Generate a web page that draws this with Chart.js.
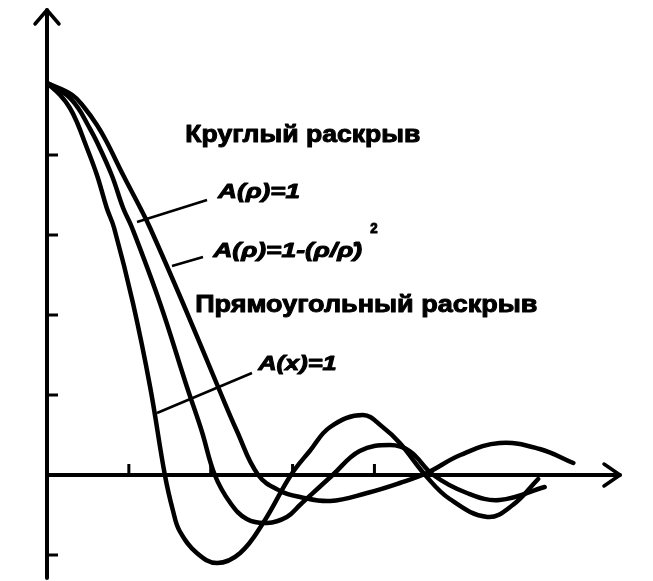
<!DOCTYPE html>
<html>
<head>
<meta charset="utf-8">
<title>Диаграмма направленности</title>
<script src="https://cdn.jsdelivr.net/npm/chart.js@4"></script>
<style>
  html, body { margin:0; background:#fff; }
  canvas { display:block; }
</style>
</head>
<body>
<canvas id="chart" width="653" height="581"></canvas>
<script>
// A(x)=1, прямоугольный раскрыв
const rectX = [0, 0.16, 0.28, 0.38, 0.46, 0.61, 0.73, 0.82, 1.05, 1.26, 1.44, 1.54, 1.62, 1.83, 2.08, 2.36, 2.64, 2.98, 3.21, 3.46, 3.86, 4.10, 4.31, 4.62, 4.92, 5.38, 5.69, 6.0];
const rectY = [0.98, 0.95, 0.9175, 0.875, 0.8325, 0.75, 0.6675, 0.6175, 0.43, 0.22, 0, -0.09, -0.14, -0.195, -0.22, -0.195, -0.12, 0, 0.06, 0.12, 0.15, 0.12, 0.08, 0, -0.06, -0.105, -0.075, -0.01];

// A(ρ)=1, круглый раскрыв
const circX = [0, 0.24, 0.38, 0.50, 0.61, 0.79, 0.93, 1.04, 1.38, 1.71, 1.89, 2.05, 2.24, 2.44, 2.69, 2.93, 3.09, 3.49, 3.82, 4.19, 4.43, 4.72, 5.13, 5.53, 6.08];
const circY = [0.98, 0.95, 0.9175, 0.875, 0.8325, 0.75, 0.6675, 0.6175, 0.43, 0.22, 0.11, 0, -0.07, -0.11, -0.12, -0.105, -0.075, 0, 0.06, 0.075, 0.06, 0, -0.045, -0.0625, -0.03];

// A(ρ)=1-(ρ/ρ')^2
const taperX = [0, 0.31, 0.46, 0.61, 0.73, 0.93, 1.14, 1.26, 1.66, 2.09, 2.32, 2.58, 2.85, 3.09, 3.46, 3.91, 4.31, 4.64, 5.05, 5.53, 6.02, 6.43];
const taperY = [0.98, 0.95, 0.9175, 0.875, 0.8325, 0.75, 0.6675, 0.6175, 0.43, 0.22, 0.11, 0, -0.04, -0.055, -0.065, -0.045, -0.02, 0.005, 0.05, 0.08, 0.065, 0.03];

const xTicks = [1, 2, 3, 4];
const yTicks = [-0.2, 0.2, 0.4, 0.6, 0.8];

// подписи: текст, левый край, правый край, базовая линия (в единицах осей)
const labels = [
  { text: "Круглый раскрыв", x0: 1.69, x1: 4.56, y: 0.8325, font: "bold 24px 'Liberation Sans', Arial, sans-serif" },
  { text: "A(ρ)=1", x0: 2.09, x1: 3.09, y: 0.6925, font: "italic bold 21px 'Liberation Sans', Arial, sans-serif" },
  { text: "A(ρ)=1-(ρ/ρ\u030D)", x0: 2.03, x1: 3.85, y: 0.545, font: "italic bold 21px 'Liberation Sans', Arial, sans-serif" },
  { text: "2", x0: 3.95, x1: 4.04, y: 0.605, font: "bold 14px 'Liberation Sans', Arial, sans-serif" },
  { text: "Прямоугольный раскрыв", x0: 1.81, x1: 5.99, y: 0.4075, font: "bold 24px 'Liberation Sans', Arial, sans-serif" },
  { text: "A(x)=1", x0: 2.58, x1: 3.54, y: 0.2625, font: "italic bold 21px 'Liberation Sans', Arial, sans-serif" }
];

// выноски от подписей к кривым
const leaders = [
  [1.955, 0.6875, 1.10, 0.6325],
  [1.906, 0.545, 1.527, 0.5225],
  [2.504, 0.255, 1.344, 0.155]
];

const pts = (xs, ys) => xs.map((x, i) => ({ x: x, y: ys[i] }));

const axesPlugin = {
  id: "axes",
  beforeDatasetsDraw(chart) {
    const c = chart.ctx;
    const sx = chart.scales.x, sy = chart.scales.y;
    const x0 = sx.getPixelForValue(0), y0 = sy.getPixelForValue(0);
    const top = sy.getPixelForValue(sy.max), bottom = sy.getPixelForValue(sy.min);
    const right = sx.getPixelForValue(sx.max);
    c.save();
    c.strokeStyle = "#000";
    c.lineCap = "round";
    c.lineJoin = "round";
    c.lineWidth = 4;
    c.beginPath();
    c.moveTo(x0, bottom); c.lineTo(x0, top);
    c.moveTo(x0, y0); c.lineTo(right, y0);
    c.stroke();
    // стрелки
    c.lineWidth = 3.5;
    c.beginPath();
    c.moveTo(x0 - 12, top + 14); c.lineTo(x0, top); c.lineTo(x0 + 12, top + 14);
    c.moveTo(right - 16, y0 - 11); c.lineTo(right, y0); c.lineTo(right - 16, y0 + 11);
    c.stroke();
    // деления
    c.lineWidth = 3;
    c.lineCap = "butt";
    c.beginPath();
    yTicks.forEach(v => {
      const p = sy.getPixelForValue(v);
      c.moveTo(x0, p); c.lineTo(x0 + 11, p);
    });
    xTicks.forEach(v => {
      const p = sx.getPixelForValue(v);
      c.moveTo(p, y0); c.lineTo(p, y0 - 11);
    });
    c.stroke();
    c.restore();
  },
  afterDatasetsDraw(chart) {
    const c = chart.ctx;
    const sx = chart.scales.x, sy = chart.scales.y;
    c.save();
    c.strokeStyle = "#000";
    c.lineWidth = 2.5;
    c.beginPath();
    leaders.forEach(l => {
      c.moveTo(sx.getPixelForValue(l[0]), sy.getPixelForValue(l[1]));
      c.lineTo(sx.getPixelForValue(l[2]), sy.getPixelForValue(l[3]));
    });
    c.stroke();
    c.fillStyle = "#000";
    c.textBaseline = "alphabetic";
    c.lineJoin = "round";
    c.lineWidth = 1;
    labels.forEach(t => {
      c.font = t.font;
      const px0 = sx.getPixelForValue(t.x0), px1 = sx.getPixelForValue(t.x1);
      const w = c.measureText(t.text).width;
      c.save();
      c.translate(px0, sy.getPixelForValue(t.y));
      c.scale((px1 - px0) / w, 1);
      c.fillText(t.text, 0, 0);
      c.strokeText(t.text, 0, 0);
      c.restore();
    });
    c.restore();
  }
};

const lineStyle = { borderColor: "#000", borderWidth: 4.5, pointRadius: 0, fill: false, tension: 0.4, borderCapStyle: "round", borderJoinStyle: "round" };

new Chart(document.getElementById("chart"), {
  type: "line",
  data: {
    datasets: [
      Object.assign({ label: "A(x)=1", data: pts(rectX, rectY) }, lineStyle),
      Object.assign({ label: "A(ρ)=1", data: pts(circX, circY) }, lineStyle),
      Object.assign({ label: "A(ρ)=1-(ρ/ρ')²", data: pts(taperX, taperY) }, lineStyle)
    ]
  },
  options: {
    responsive: false,
    animation: false,
    layout: { padding: { left: 47, right: 33, top: 10, bottom: 3 } },
    scales: {
      x: { type: "linear", min: 0, max: 7, display: false },
      y: { type: "linear", min: -0.2575, max: 1.1625, display: false }
    },
    plugins: { legend: { display: false }, tooltip: { enabled: false } }
  },
  plugins: [axesPlugin]
});
</script>
</body>
</html>
